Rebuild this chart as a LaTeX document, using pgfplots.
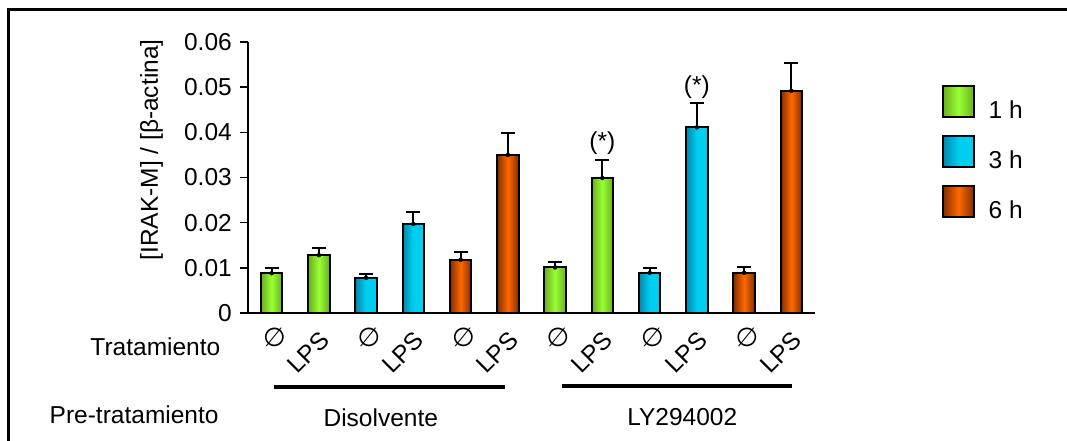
\documentclass[border=0pt]{standalone}
\usepackage{pgfplots}
\pgfplotsset{compat=1.18}
\usepackage{fontspec}
\setmainfont{Liberation Sans}
\newfontfamily\dejavu{DejaVu Sans}
\definecolor{gL}{RGB}{153,255,51}
\definecolor{gD}{RGB}{105,175,30}
\definecolor{bL}{RGB}{0,206,240}
\definecolor{bD}{RGB}{0,135,175}
\definecolor{oL}{RGB}{255,105,0}
\definecolor{oD}{RGB}{130,45,0}
\pgfplotsset{
  boxlegend/.style={legend image code/.code={\draw[##1,draw=black,line width=1.5bp] (0bp,-6.5bp) rectangle (31bp,24.5bp);}},
  mybar/.style={ybar, bar shift=0pt, bar width=21.5bp, draw=black, line width=1.8bp, boxlegend},
  gbar/.style={mybar, left color=gD, right color=gD, middle color=gL},
  bbar/.style={mybar, left color=bD, right color=bL, middle color=bL},
  obar/.style={mybar, left color=oD, right color=oD, middle color=oL},
  ebar/.style={forget plot, only marks, mark=none,
    error bars/.cd, y dir=plus, y explicit,
    error bar style={black, line width=2bp},
    error mark options={rotate=90, mark size=7bp, line width=2bp, black}},
}
\pgfplotstableread{
x y e
0 0.0088 0.0012
1 0.0128 0.0016
6 0.0101 0.0011
7 0.0299 0.0039
}\green
\pgfplotstableread{
x y e
2 0.0078 0.0008
3 0.0197 0.0026
8 0.0089 0.0011
9 0.0411 0.0055
}\blue
\pgfplotstableread{
x y e
4 0.0118 0.0016
5 0.0350 0.0048
10 0.0089 0.0012
11 0.0492 0.0061
}\orange
\newcommand{\nul}{{\dejavu\fontsize{26bp}{30bp}\selectfont ∅}}
\begin{document}
\begin{tikzpicture}[font=\fontsize{24.5bp}{29bp}\selectfont]
\useasboundingbox (-248bp,-128bp) rectangle (819bp,313bp);
\draw[line width=3bp] (-239.5bp,-140bp) -- (-239.5bp,303bp) -- (830bp,303bp);
\begin{axis}[
  at={(0,0)}, anchor=south west,
  scale only axis, width=567bp, height=271bp,
  xmin=-0.5, xmax=11.5, ymin=0, ymax=0.06,
  axis lines*=left, clip=false,
  axis line style={line width=1.5bp, black},
  scaled y ticks=false,
  ytick={0,0.01,0.02,0.03,0.04,0.05,0.06},
  yticklabels={0,0.01,0.02,0.03,0.04,0.05,0.06},
  tick align=outside, major tick length=8bp,
  ytick style={line width=1.5bp, black},
  xtick={1,3,5,7,9,11},
  xticklabels={LPS,LPS,LPS,LPS,LPS,LPS},
  xtick style={draw=none},
  xticklabel style={inner sep=0pt, xshift=6bp, yshift=-15bp, anchor=east, rotate=45},
  yticklabel style={inner sep=0pt, xshift=-8bp},
  /pgf/number format/assume math mode=true,
  legend style={draw=none, fill=none, at={(1.224,0.841)}, anchor=north west,
    inner sep=0pt, row sep=15bp, cells={anchor=west}, nodes={inner sep=0pt},
    /tikz/every odd column/.append style={column sep=14bp}},
]
\addplot[gbar] coordinates {(0,0.0088)};
\addlegendentry{1 h}
\addplot[gbar, forget plot] coordinates {(1,0.0128)};
\addplot[bbar] coordinates {(2,0.0078)};
\addlegendentry{3 h}
\addplot[bbar, forget plot] coordinates {(3,0.0197)};
\addplot[obar] coordinates {(4,0.0118)};
\addlegendentry{6 h}
\addplot[obar, forget plot] coordinates {(5,0.0350)};
\addplot[gbar, forget plot] coordinates {(6,0.0101)};
\addplot[gbar, forget plot] coordinates {(7,0.0299)};
\addplot[bbar, forget plot] coordinates {(8,0.0089)};
\addplot[bbar, forget plot] coordinates {(9,0.0411)};
\addplot[obar, forget plot] coordinates {(10,0.0089)};
\addplot[obar, forget plot] coordinates {(11,0.0492)};
\addplot[ebar] table[x=x,y=y,y error=e] {\green};
\addplot[ebar] table[x=x,y=y,y error=e] {\blue};
\addplot[ebar] table[x=x,y=y,y error=e] {\orange};
\node[inner sep=0pt] at (axis cs:0.06,-0.0053) {\nul};
\node[inner sep=0pt] at (axis cs:2.06,-0.0053) {\nul};
\node[inner sep=0pt] at (axis cs:4.06,-0.0053) {\nul};
\node[inner sep=0pt] at (axis cs:6.06,-0.0053) {\nul};
\node[inner sep=0pt] at (axis cs:8.06,-0.0053) {\nul};
\node[inner sep=0pt] at (axis cs:10.06,-0.0053) {\nul};
\node at (axis cs:7,0.0376) {(*)};
\node at (axis cs:9,0.0500) {(*)};
\node[rotate=90] at (axis cs:-2.54,0.0361) {[IRAK-M] / [β-actina]};
\node at (axis cs:-2.46,-0.0075) {Tratamiento};
\node at (axis cs:-2.91,-0.0226) {Pre-tratamiento};
\node at (axis cs:2.31,-0.0232) {Disolvente};
\node at (axis cs:8.69,-0.0230) {LY294002};
\draw[line width=3.5bp] (axis cs:0.04,-0.01638) -- (axis cs:4.94,-0.01638);
\draw[line width=3.5bp] (axis cs:6.14,-0.01616) -- (axis cs:11.02,-0.01616);
\end{axis}
\end{tikzpicture}
\end{document}
